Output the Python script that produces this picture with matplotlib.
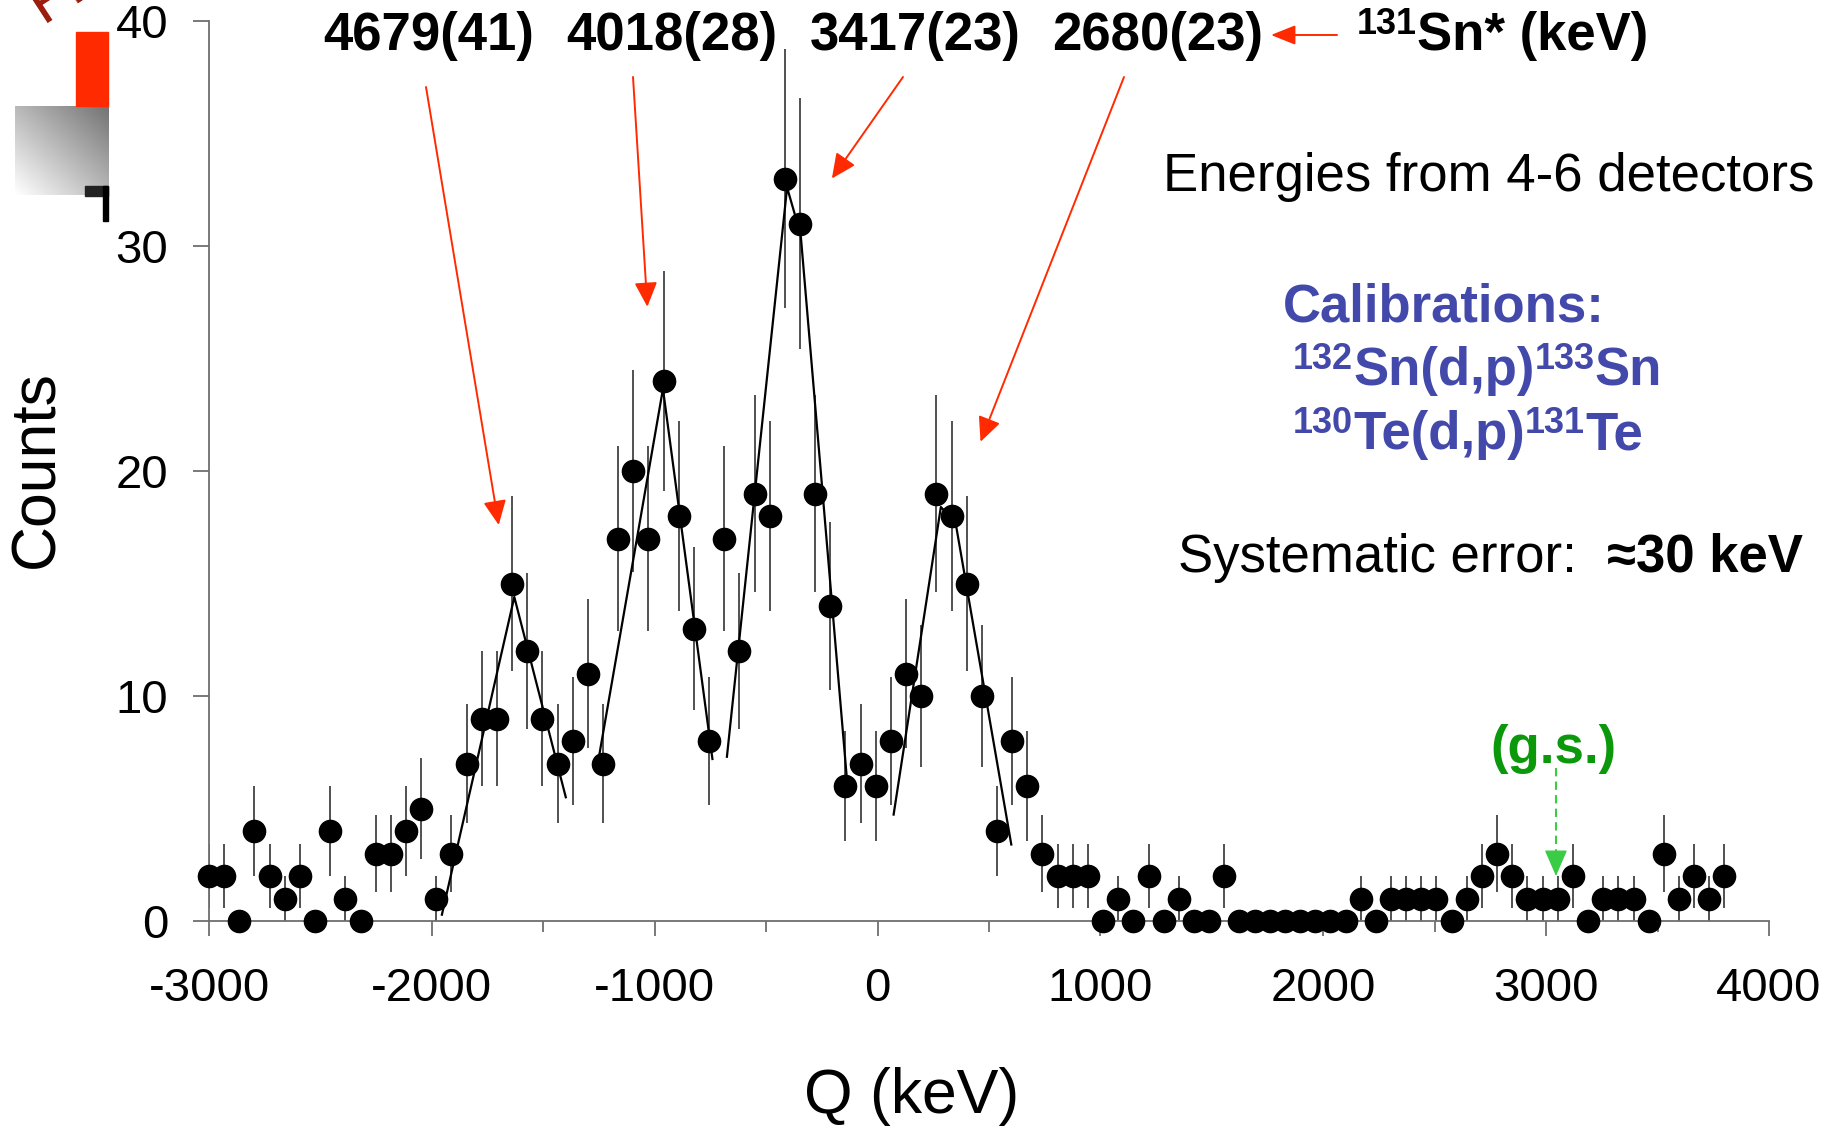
import numpy as np
import matplotlib
matplotlib.use('Agg')
import matplotlib.pyplot as plt
from matplotlib.patches import Rectangle

plt.rcParams['font.family'] = ['Liberation Sans', 'DejaVu Sans']
plt.rcParams['axes.unicode_minus'] = False

# spectrum: 68 keV bins starting at -3000 keV
q_start = -3000
q_step = 68
counts = [2, 2, 0, 4, 2, 1, 2, 0, 4, 1,
          0, 3, 3, 4, 5, 1, 3, 7, 9, 9,
          15, 12, 9, 7, 8, 11, 7, 17, 20, 17,
          24, 18, 13, 8, 17, 12, 19, 18, 33, 31,
          19, 14, 6, 7, 6, 8, 11, 10, 19, 18,
          15, 10, 4, 8, 6, 3, 2, 2, 2, 0,
          1, 0, 2, 0, 1, 0, 0, 2, 0, 0,
          0, 0, 0, 0, 0, 0, 1, 0, 1, 1,
          1, 1, 0, 1, 2, 3, 2, 1, 1, 1,
          2, 0, 1, 1, 1, 0, 3, 1, 2, 1, 2]
q = [q_start + i * q_step for i in range(len(counts))]

# hand-drawn peak fit lines
fit1_x = [-1955, -1630, -1399]
fit1_y = [0.28, 14.4, 5.5]
fit2_x = [-1251, -963, -741]
fit2_y = [7.25, 23.65, 7.2]
fit3_x = [-676, -406, -345, -135]
fit3_y = [7.3, 32.6, 30.5, 6.0]
fit4_x = [72, 284, 350, 600]
fit4_y = [4.73, 18.4, 17.7, 3.4]

# excitation energies and where their arrows point
peak_labels = ['4679(41)', '4018(28)', '3417(23)', '2680(23)']
arrow_tip_x = [-1700, -1033, -205, 462]
arrow_tip_y = [17.6, 27.3, 33.0, 21.3]
gs_x = 3044

xticks = [-3000, -2000, -1000, 0, 1000, 2000, 3000, 4000]
yticks = [0, 10, 20, 30, 40]

W, H = 1839, 1135


def fx(px):
    return px / W


def fy(py):
    return 1 - py / H


fig = plt.figure(figsize=(W / 100, H / 100), dpi=100)
ax = fig.add_axes([fx(209), fy(921), fx(1769) - fx(209), fy(21) - fy(921)])
renderer = fig.canvas.get_renderer()


def pieces(x_px, base_px, parts, **kw):
    # lay out (text, size, rise_px) pieces one after another, for superscripts
    x = x_px
    for s, size, rise in parts:
        t = fig.text(fx(x), fy(base_px - rise), s, fontsize=size,
                     ha='left', va='baseline', **kw)
        x += t.get_window_extent(renderer).width


axis_col = '#6e6e6e'
red = '#ff2a00'

err = np.sqrt(counts)
ax.vlines(q, np.array(counts) - err, np.array(counts) + err,
          color='#333333', lw=1.2, zorder=2)
for fxs, fys in [(fit1_x, fit1_y), (fit2_x, fit2_y), (fit3_x, fit3_y), (fit4_x, fit4_y)]:
    ax.plot(fxs, fys, color='black', lw=1.6, zorder=3)
ax.plot(q, counts, 'o', color='black', ms=16, clip_on=False, zorder=4)

ax.set_xlim(-3000, 4000)
ax.set_ylim(0, 40)
ax.set_xticks(xticks)
ax.set_xticklabels([str(t) for t in xticks])
ax.set_xticks([t + 500 for t in xticks[:-1]], minor=True)
ax.set_yticks(yticks)
ax.spines['top'].set_visible(False)
ax.spines['right'].set_visible(False)
for s in ['left', 'bottom']:
    ax.spines[s].set_color(axis_col)
    ax.spines[s].set_linewidth(1.3)
ax.tick_params(axis='x', which='major', length=10.8, width=1.3, color=axis_col,
               labelsize=34, pad=22)
ax.tick_params(axis='x', which='minor', length=8, width=1.3, color=axis_col)
ax.tick_params(axis='y', length=11.5, width=1.3, color=axis_col, labelsize=34, pad=18)

fig.text(fx(37), fy(469), 'Counts', rotation=90, ha='center', va='center', fontsize=45)
fig.text(fx(912), fy(1097), 'Q (keV)', ha='center', va='center', fontsize=45)

# peak labels and arrows
label_cx = [429, 672, 915, 1158]
arrow_start = [(426, 87), (633, 77), (903, 77), (1124, 77)]
for lab, cx, (sx, sy), tx, ty in zip(peak_labels, label_cx, arrow_start, arrow_tip_x, arrow_tip_y):
    fig.text(fx(cx), fy(50), lab, ha='center', va='baseline', fontsize=38, fontweight='bold')
    ax.annotate('', xy=(tx, ty), xycoords='data', xytext=(fx(sx), fy(sy)),
                textcoords='figure fraction', annotation_clip=False,
                arrowprops=dict(arrowstyle='-|>,head_length=0.75,head_width=0.35',
                                mutation_scale=20, color=red, lw=1.4,
                                shrinkA=0, shrinkB=0))

big, sup, rise = 38, 26, 16
pieces(1357, 50, [('131', sup, rise), ('Sn* (keV)', big, 0)], fontweight='bold')
ax.annotate('', xy=(fx(1271), fy(35)), xycoords='figure fraction',
            xytext=(fx(1337), fy(35)), textcoords='figure fraction', annotation_clip=False,
            arrowprops=dict(arrowstyle='-|>,head_length=0.75,head_width=0.3',
                            mutation_scale=20, color=red, lw=1.4, shrinkA=0, shrinkB=0))

fig.text(fx(1163), fy(191), 'Energies from 4-6 detectors', ha='left', va='baseline', fontsize=38)

blue = '#4349aa'
fig.text(fx(1283), fy(321), 'Calibrations:', ha='left', va='baseline', fontsize=38,
         fontweight='bold', color=blue)
pieces(1293, 385, [('132', sup, rise), ('Sn(d,p)', big, 0), ('133', sup, rise), ('Sn', big, 0)],
       fontweight='bold', color=blue)
pieces(1293, 449, [('130', sup, rise), ('Te(d,p)', big, 0), ('131', sup, rise), ('Te', big, 0)],
       fontweight='bold', color=blue)

fig.text(fx(1178), fy(572), 'Systematic error:', ha='left', va='baseline', fontsize=38)
fig.text(fx(1607), fy(572), '\u224830 keV', ha='left', va='baseline', fontsize=38,
         fontweight='bold')

# ground state marker
ax.text(gs_x - 10, 7.0, '(g.s.)', ha='center', va='baseline', fontsize=38,
        fontweight='bold', color='#0b990b')
ax.plot([gs_x, gs_x], [6.8, 2.6], color='#3acc45', lw=1.5, ls=(0, (4, 2.5)))
ax.annotate('', xy=(gs_x, 2.0), xytext=(gs_x, 3.0),
            arrowprops=dict(arrowstyle='-|>,head_length=0.83,head_width=0.36',
                            mutation_scale=20, color='#3acc45', lw=1.0,
                            shrinkA=0, shrinkB=0))

# leftover slide decorations in the top-left corner
fig.patches.append(Rectangle((fx(76), fy(106)), fx(108) - fx(76), fy(32) - fy(106),
                             transform=fig.transFigure, color=red, zorder=1))
gax = fig.add_axes([fx(15), fy(195), fx(108) - fx(15), fy(106) - fy(195)])
n = 100
jj, ii = np.meshgrid(np.linspace(0, 1, n), np.linspace(0, 1, n))
grad = 1 - 0.55 * (jj + (1 - ii)) / 2
gax.imshow(grad, cmap='gray', vmin=0, vmax=1, aspect='auto', origin='upper')
gax.axis('off')
fig.patches.append(Rectangle((fx(85), fy(196)), fx(108) - fx(85), fy(186) - fy(196),
                             transform=fig.transFigure, color='#222222', zorder=3))
fig.patches.append(Rectangle((fx(103), fy(221)), fx(108) - fx(103), fy(186) - fy(221),
                             transform=fig.transFigure, color='black', zorder=3))
fig.text(fx(43), fy(23), 'Fi', rotation=33, rotation_mode='anchor', ha='left',
         va='baseline', fontsize=45, color='#9b1b0b')

fig.savefig('out.png', dpi=100)
